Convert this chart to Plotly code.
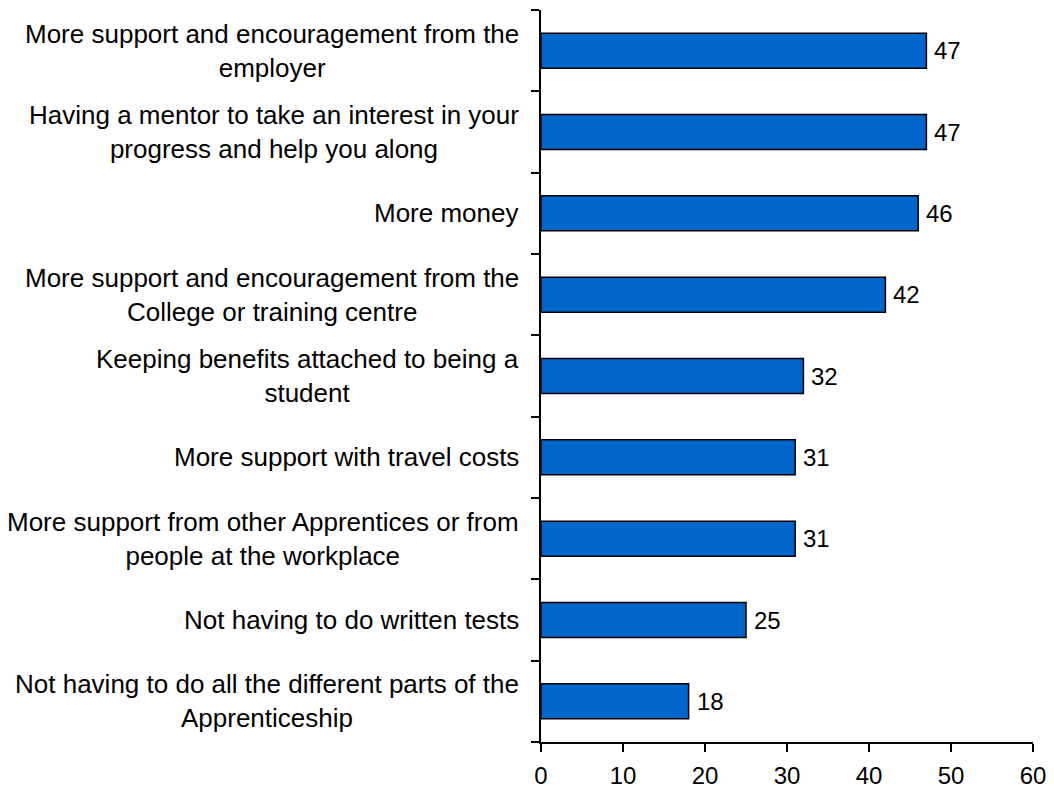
import plotly.graph_objects as go

# Survey items, listed top to bottom as drawn
categories = [
    "More support and encouragement from the<br>employer",
    "Having a mentor to take an interest in your<br>progress and help you along",
    "More money",
    "More support and encouragement from the<br>College or training centre",
    "Keeping benefits attached to being a<br>student",
    "More support with travel costs",
    "More support from other Apprentices or from<br>people at the workplace",
    "Not having to do written tests",
    "Not having to do all the different parts of the<br>Apprenticeship",
]
values = [47, 47, 46, 42, 32, 31, 31, 25, 18]
x_ticks = [0, 10, 20, 30, 40, 50, 60]

FONT = "Liberation Sans, Arial, sans-serif"
n = len(categories)
ypos = [n - 1 - i for i in range(n)]

fig = go.Figure(
    go.Bar(
        x=values,
        y=ypos,
        orientation="h",
        width=0.43,
        marker=dict(color="#0066CC", line=dict(color="#000000", width=1.5)),
        hoverinfo="x",
    )
)

annotations = []
for label, y in zip(categories, ypos):
    annotations.append(dict(
        x=0, xref="paper", y=y, yref="y",
        text=label, showarrow=False,
        xanchor="right", yanchor="middle", align="center",
        xshift=-20,
        font=dict(family=FONT, size=26, color="#000000"),
    ))
for v, y in zip(values, ypos):
    annotations.append(dict(
        x=v, xref="x", y=y, yref="y",
        text=str(v), showarrow=False,
        xanchor="left", yanchor="middle",
        xshift=6,
        font=dict(family=FONT, size=24, color="#000000"),
    ))

fig.update_layout(
    width=1054, height=792,
    margin=dict(l=541, r=21, t=10, b=50),
    paper_bgcolor="white", plot_bgcolor="white",
    showlegend=False,
    annotations=annotations,
    xaxis=dict(
        range=[0, 60], tickvals=x_ticks, ticktext=[str(t) for t in x_ticks],
        showgrid=False, zeroline=False, automargin=False,
        showline=True, linecolor="#000000", linewidth=1.5,
        ticks="outside", ticklen=8, tickwidth=1.5, tickcolor="#000000",
        ticklabelstandoff=3,
        tickfont=dict(family=FONT, size=24, color="#000000"),
    ),
    yaxis=dict(
        range=[-0.5, n - 0.5],
        tickvals=[i - 0.5 for i in range(n + 1)],
        ticktext=[""] * (n + 1),
        showgrid=False, zeroline=False, automargin=False,
        showline=True, linecolor="#000000", linewidth=1.5,
        ticks="outside", ticklen=8, tickwidth=1.5, tickcolor="#000000",
    ),
)

fig.write_html("out.html")
